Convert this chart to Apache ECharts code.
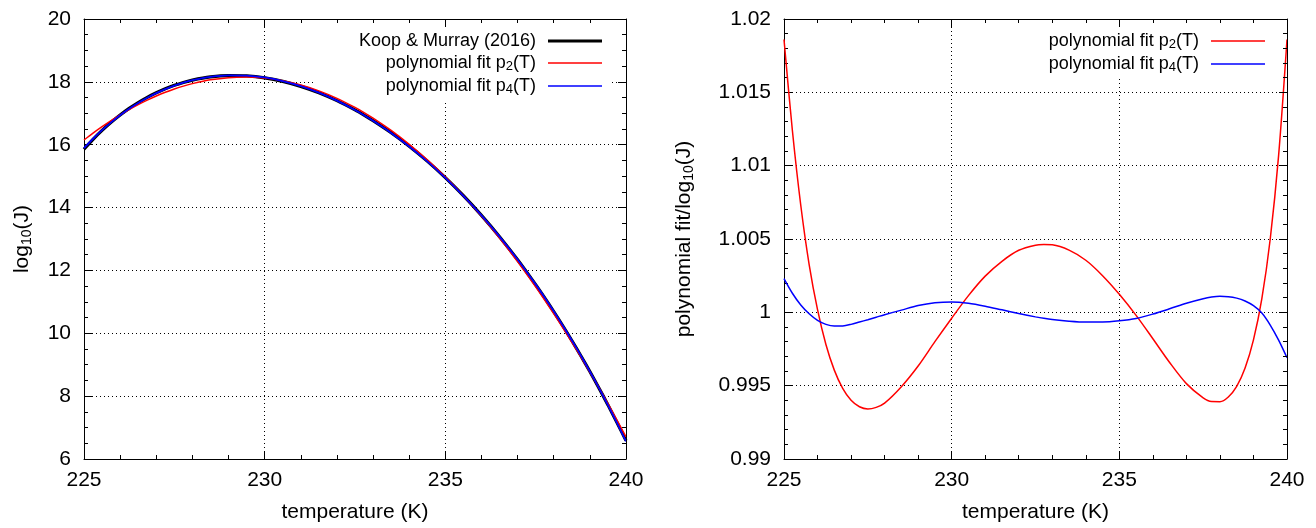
<!DOCTYPE html>
<html><head><meta charset="utf-8">
<script src="https://cdn.jsdelivr.net/npm/echarts@6/dist/echarts.min.js"></script>
<style>html,body{margin:0;padding:0;background:#fff}#c{width:1316px;height:528px}</style>
</head><body><div id="c"></div>
<script>
// ---- data ----
const temps = [225,225.25,225.5,225.75,226,226.25,226.5,226.75,227,227.25,227.5,227.75,228,228.5,229,229.5,230,230.5,231,231.5,232,232.5,232.75,233,233.5,234,234.5,235,235.5,236,236.5,237,237.5,237.75,238,238.25,238.5,238.75,239,239.25,239.5,239.75,240];
const logJ = [15.855,16.169,16.454,16.713,16.946,17.156,17.343,17.509,17.655,17.782,17.890,17.981,18.056,18.157,18.201,18.189,18.127,18.015,17.856,17.652,17.402,17.108,16.944,16.769,16.385,15.955,15.479,14.954,14.379,13.753,13.074,12.339,11.545,11.125,10.690,10.239,9.770,9.285,8.782,8.262,7.722,7.163,6.584];
const fitP2 = [16.150,16.369,16.574,16.767,16.949,17.118,17.275,17.418,17.549,17.667,17.772,17.865,17.944,18.065,18.134,18.153,18.120,18.036,17.900,17.713,17.476,17.186,17.023,16.846,16.455,16.012,15.518,14.972,14.376,13.728,13.029,12.279,11.478,11.058,10.625,10.179,9.721,9.250,8.766,8.269,7.761,7.240,6.706];
const fitP4 = [15.891,16.190,16.462,16.711,16.937,17.142,17.327,17.493,17.641,17.770,17.881,17.975,18.053,18.160,18.209,18.201,18.140,18.026,17.864,17.655,17.401,17.103,16.937,16.761,16.375,15.944,15.469,14.945,14.373,13.751,13.077,12.347,11.556,11.137,10.702,10.250,9.779,9.292,8.786,8.262,7.715,7.149,6.564];
const ratioP2 = [1.0186,1.0124,1.0073,1.00326,1.00018,0.99781,0.99606,0.99481,0.99400,0.99356,0.99341,0.99352,0.99381,0.99493,0.99634,0.99800,0.99960,1.00114,1.00247,1.00348,1.00423,1.00458,1.00462,1.00460,1.00424,1.00355,1.00250,1.00123,0.99979,0.99820,0.99658,0.99514,0.99417,0.99392,0.99391,0.99423,0.99495,0.99620,0.99812,1.00093,1.00500,1.01070,1.0186];
const ratioP4 = [1.0023,1.0013,1.0005,0.9999,0.99945,0.99918,0.99906,0.99907,0.99918,0.99934,0.99950,0.99967,0.99984,1.00015,1.00046,1.00065,1.00071,1.00062,1.00042,1.00017,0.99992,0.99969,0.99959,0.99951,0.99940,0.99934,0.99934,0.99942,0.99958,0.99988,1.00024,1.00062,1.00093,1.00104,1.00109,1.00107,1.00097,1.00077,1.00045,0.99995,0.99913,0.99810,0.99690];
const xTicks = {min: 225, max: 240, interval: 5};
const yLeftTicks = {min: 6, max: 20, interval: 2};
const yRightTicks = {min: 0.99, max: 1.02, interval: 0.005};
const names = {koop: 'Koop & Murray (2016)', p2: 'polynomial fit p2(T)', p4: 'polynomial fit p4(T)'};

// ---- chart ----
const FONT = '"Liberation Sans", Arial, Helvetica, sans-serif';
const AXF = 21;
const SMOOTH = 0.3;
const chart = echarts.init(document.getElementById('c'), null, {renderer: 'canvas'});
const pairs = arr => temps.map((t, i) => [t, arr[i]]);

const axisRich = {
  n: {fontSize: AXF, lineHeight: 24, fontFamily: FONT, color: '#000'},
  s: {fontSize: 14, lineHeight: 10, verticalAlign: 'bottom', fontFamily: FONT, color: '#000'}
};
const legRich = {
  n: {fontSize: 18, lineHeight: 20, fontFamily: FONT, color: '#000'},
  s: {fontSize: 13, lineHeight: 8, verticalAlign: 'bottom', fontFamily: FONT, color: '#000'}
};
const legFmt = name => {
  const m = name.match(/^(.*p)(\d)(\(T\))$/);
  return m ? `{n|${m[1]}}{s|${m[2]}}{n|${m[3]}}` : `{n|${name}}`;
};
const bar = h => 'path://M0,0H54V' + h + 'H0Z';

function xAx(gi, pos) {
  const main = pos === 'bottom';
  return Object.assign({}, xTicks, {
    type: 'value', gridIndex: gi, position: pos, z: main ? 0 : 5,
    axisLine: {show: true, onZero: false, lineStyle: {color: '#000', width: 1}},
    axisTick: {show: true, inside: true, length: 8, lineStyle: {color: '#000'}},
    minorTick: {show: true, splitNumber: 5, length: 4, lineStyle: {color: '#000'}},
    axisLabel: {show: main, margin: 11, fontSize: AXF, fontFamily: FONT, color: '#000', formatter: v => String(v)},
    splitLine: {show: main, lineStyle: {color: '#000', width: 1, type: [1, 3]}},
    name: main ? 'temperature (K)' : '', nameLocation: 'middle', nameGap: 43,
    nameTextStyle: {fontSize: AXF, fontFamily: FONT, color: '#000'}
  });
}
function yAx(gi, pos, ticks, minorSplit, fmt, nm, gap) {
  const main = pos === 'left';
  return Object.assign({}, ticks, {
    type: 'value', gridIndex: gi, position: pos, z: main ? 0 : 5,
    axisLine: {show: true, onZero: false, lineStyle: {color: '#000', width: 1}},
    axisTick: {show: true, inside: true, length: 8, lineStyle: {color: '#000'}},
    minorTick: {show: true, splitNumber: minorSplit, length: 4, lineStyle: {color: '#000'}},
    axisLabel: {show: main, margin: 13, fontSize: AXF, fontFamily: FONT, color: '#000', formatter: fmt},
    splitLine: {show: main, lineStyle: {color: '#000', width: 1, type: [1, 3]}},
    name: main ? nm : '', nameLocation: 'middle', nameGap: gap,
    nameTextStyle: {fontSize: AXF, fontFamily: FONT, color: '#000', rich: axisRich}
  });
}
function legend(data, right, pad) {
  return {
    data: data, orient: 'vertical', align: 'right',
    right: right, top: 20, padding: pad, itemWidth: 54, itemHeight: 14, itemGap: 4,
    backgroundColor: '#fff', z: 1, selectedMode: false, formatter: legFmt,
    itemStyle: {borderWidth: 0},
    textStyle: {fontSize: 18, fontFamily: FONT, color: '#000', padding: [0, 7, 0, 0], rich: legRich}
  };
}
function line(name, xi, yi, arr, color, width, z) {
  return {name: name, type: 'line', xAxisIndex: xi, yAxisIndex: yi, data: pairs(arr),
    smooth: SMOOTH, symbol: 'none', lineStyle: {color: color, width: width}, itemStyle: {color: color}, z: z};
}

chart.setOption({
  animation: false,
  backgroundColor: '#fff',
  grid: [
    {left: 84, top: 19, width: 542, height: 444},
    {left: 784, top: 19, width: 503, height: 444}
  ],
  xAxis: [xAx(0, 'bottom'), xAx(0, 'top'), xAx(1, 'bottom'), xAx(1, 'top')],
  yAxis: [
    yAx(0, 'left', yLeftTicks, 4, v => String(v), '{n|log}{s|10}{n|(J)}', 50),
    yAx(0, 'right', yLeftTicks, 4, v => String(v), '', 0),
    yAx(1, 'left', yRightTicks, 5, v => String(parseFloat(v.toFixed(4))), '{n|polynomial fit/log}{s|10}{n|(J)}', 88),
    yAx(1, 'right', yRightTicks, 5, v => String(v), '', 0)
  ],
  legend: [
    legend([{name: names.koop, icon: bar(3.2)}, {name: names.p2, icon: bar(1.5)}, {name: names.p4, icon: bar(1.5)}], 704, [12, 10, 5, 43]),
    legend([{name: names.p2, icon: bar(1.5)}, {name: names.p4, icon: bar(1.5)}], 41, [12, 10, 4, 43])
  ],
  series: [
    line(names.koop, 0, 0, logJ, '#000000', 3.2, 2),
    line(names.p2, 0, 0, fitP2, '#ff0000', 1.5, 3),
    line(names.p4, 0, 0, fitP4, '#0000ff', 1.8, 4),
    line(names.p2, 2, 2, ratioP2, '#ff0000', 1.5, 3),
    line(names.p4, 2, 2, ratioP4, '#0000ff', 1.5, 4)
  ]
});
</script>
</body></html>
